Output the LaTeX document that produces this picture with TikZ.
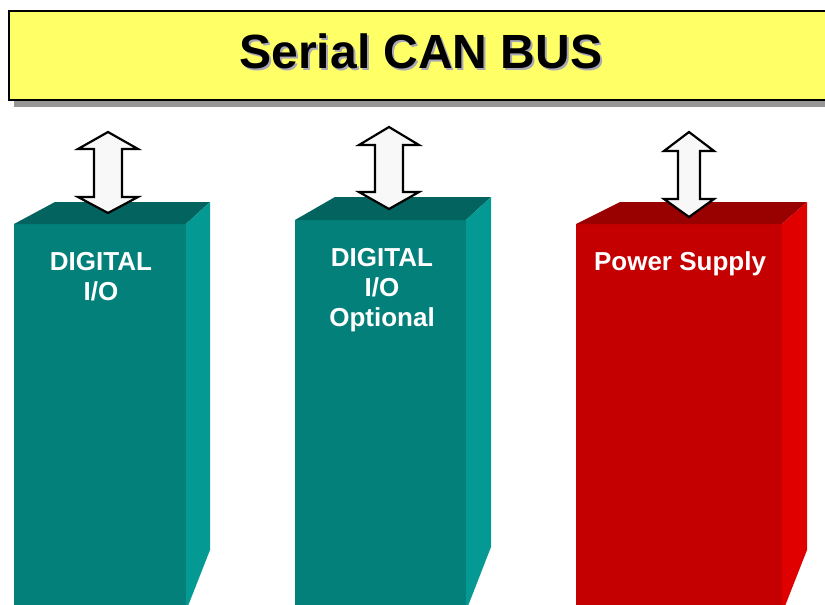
\documentclass[tikz,border=0pt]{standalone}
\usepackage{fontspec}
\setmainfont{Liberation Sans}
\definecolor{busyellow}{HTML}{FFFF66}
\definecolor{busshadow}{HTML}{969696}
\definecolor{tealfront}{HTML}{03807A}
\definecolor{tealtop}{HTML}{03635E}
\definecolor{tealside}{HTML}{049A93}
\definecolor{redfront}{HTML}{C40000}
\definecolor{redtop}{HTML}{990000}
\definecolor{redside}{HTML}{E00000}
\definecolor{arrowfill}{HTML}{F8F8F8}
\definecolor{titleshadow}{HTML}{A8A8B4}
\tikzset{
  boxlabel/.style={text=white, font=\fontsize{26}{30}\selectfont\bfseries, align=center, anchor=base, inner sep=0pt},
  titletext/.style={font=\fontsize{48}{52}\selectfont\bfseries, anchor=base, inner sep=0pt},
  buslink/.style={draw=black, line width=2.2pt, fill=arrowfill, line join=miter},
}
% double arrow: #1 cx, #2 top tip, #3 top base, #4 bottom base, #5 bottom tip, #6 head half width, #7 shaft half width
\newcommand{\busarrow}[7]{%
  \draw[buslink] (#1,#2) -- (#1+#6,#3) -- (#1+#7,#3) -- (#1+#7,#4) -- (#1+#6,#4)
    -- (#1,#5) -- (#1-#6,#4) -- (#1-#7,#4) -- (#1-#7,#3) -- (#1-#6,#3) -- cycle;}
\begin{document}
\begin{tikzpicture}[x=1pt,y=-1pt]
\useasboundingbox (0,0) rectangle (825,605);
\clip (0,0) rectangle (825,605);
\fill[white] (0,0) rectangle (825,605);
% bus bar
\fill[busshadow] (14,17) rectangle (840,107);
\draw[fill=busyellow, line width=2.5pt] (9,11) rectangle (840,100);
\node[titletext, text=titleshadow] at (423,70) {Serial CAN BUS};
\node[titletext] (title) at (421,68) {Serial CAN BUS};
% box 1
\fill[tealfront] (14,224) rectangle (186,606);
\fill[tealtop] (14,224) -- (55,202) -- (210,202) -- (186,224) -- cycle;
\fill[tealside] (186,224) -- (210,202) -- (210,550) -- (188,606) -- (186,606) -- cycle;
\node[boxlabel] (dio) at (101,300) {DIGITAL\\I/O};
% box 2
\fill[tealfront] (295,220) rectangle (466,606);
\fill[tealtop] (295,220) -- (335,197) -- (491,197) -- (466,220) -- cycle;
\fill[tealside] (466,220) -- (491,197) -- (491,547) -- (468,606) -- (466,606) -- cycle;
\node[boxlabel] (dioopt) at (382,326) {DIGITAL\\I/O\\Optional};
% box 3
\fill[redfront] (576,224) rectangle (782,606);
\fill[redtop] (576,224) -- (620,202) -- (807,202) -- (782,224) -- cycle;
\fill[redside] (782,224) -- (807,202) -- (807,550) -- (785,606) -- (782,606) -- cycle;
\node[boxlabel] (psu) at (680,270) {Power Supply};
% bus links
\busarrow{108}{132}{149}{197}{213}{30}{14}
\busarrow{389}{127}{145}{192}{209}{30}{14}
\busarrow{689}{132}{151}{199}{217}{25}{11}
\end{tikzpicture}
\end{document}
